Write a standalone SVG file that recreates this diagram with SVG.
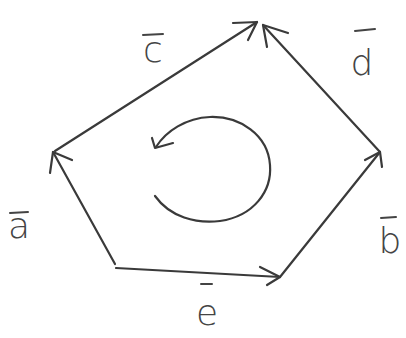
<svg xmlns="http://www.w3.org/2000/svg" width="406" height="338" viewBox="0 0 406 338">
  <style>
    .edge { fill: none; stroke: #3a3a3a; stroke-width: 2.2; stroke-linecap: round; stroke-linejoin: round; }
    .head { fill: none; stroke: #3a3a3a; stroke-width: 2.2; stroke-linecap: round; stroke-linejoin: round; }
    .lbl { font-family: "DejaVu Sans", "Liberation Sans", sans-serif; font-size: 36px; font-weight: 200; fill: #444; }
    .bar { stroke: #444; stroke-width: 2; stroke-linecap: round; }
  </style>
  <rect width="406" height="338" fill="#ffffff"/>
  <g id="connectors">
    <!-- a: B -> A -->
    <path class="edge" d="M115,264 L53,152"/>
    <path class="head" d="M50,173 L53,152 L72,160"/>
    <!-- c: A -> E -->
    <path class="edge" d="M55,151 L257,22"/>
    <path class="head" d="M233,23 L257,22 L248,40"/>
    <!-- d: D -> E -->
    <path class="edge" d="M380,152 L263,25"/>
    <path class="head" d="M288,33 L263,25 L267,47"/>
    <!-- b: C -> D -->
    <path class="edge" d="M280,277 L380,152"/>
    <path class="head" d="M365,160 L380,152 L382,167"/>
    <!-- e: B -> C -->
    <path class="edge" d="M116,268 L280,277"/>
    <path class="head" d="M260,267 L280,277 L267,285"/>
    <!-- circulation arrow -->
    <path class="edge" d="M155,196 C170,217 196,224 220,221 C254,216 272,191 270,165 C268,135 240,116 210,117 C186,118 166,131 156,147"/>
    <path class="head" d="M152,138 L155,148 L173,143"/>
  </g>
  <g id="label-c">
    <text class="lbl" x="153" y="62" text-anchor="middle">c</text>
    <line class="bar" x1="143" y1="35" x2="163" y2="34"/>
  </g>
  <g id="label-d">
    <text class="lbl" x="362" y="75" text-anchor="middle">d</text>
    <line class="bar" x1="355" y1="31" x2="375" y2="29"/>
  </g>
  <g id="label-a">
    <text class="lbl" x="19" y="238" text-anchor="middle">a</text>
    <line class="bar" x1="10" y1="213" x2="28" y2="212"/>
  </g>
  <g id="label-b">
    <text class="lbl" x="390" y="253" text-anchor="middle">b</text>
    <line class="bar" x1="381" y1="218" x2="396" y2="217"/>
  </g>
  <g id="label-e">
    <text class="lbl" x="207" y="325" text-anchor="middle">e</text>
    <line class="bar" x1="201" y1="284" x2="212" y2="284"/>
  </g>
</svg>
